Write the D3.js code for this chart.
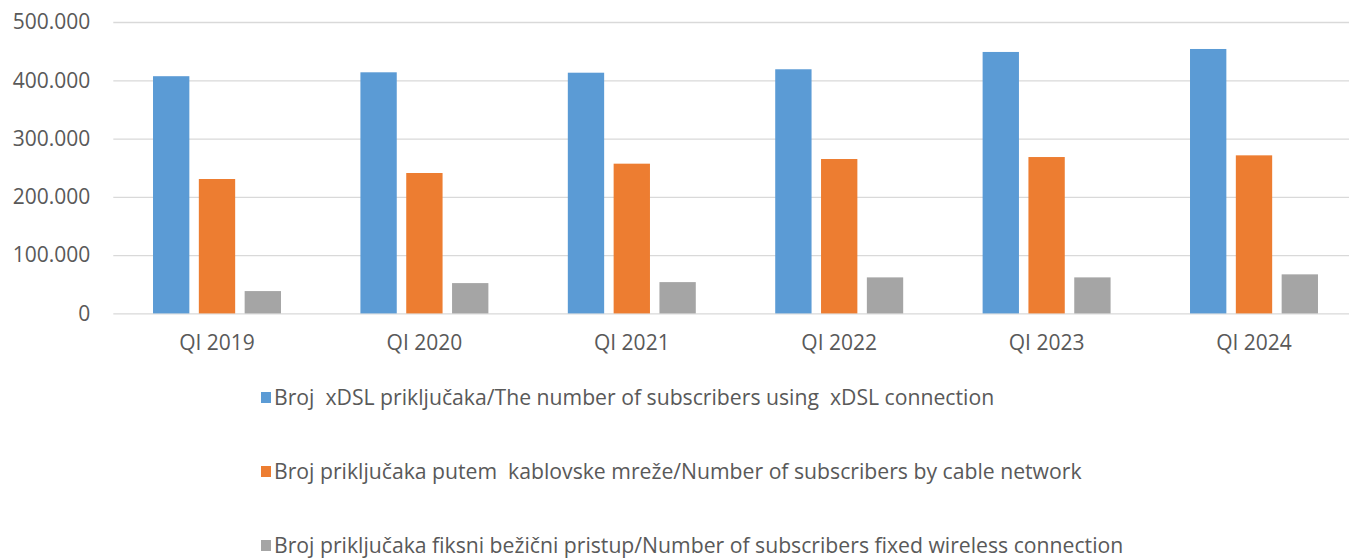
<!DOCTYPE html>
<html>
<head>
<meta charset="utf-8">
<script src="https://cdn.jsdelivr.net/npm/d3@7"></script>
<style>
  body { margin: 0; background: #fff; }
  text { font-family: "Open Sans", "Noto Sans", sans-serif; fill: #595959; white-space: pre; }
</style>
</head>
<body>
<svg width="1349" height="558"></svg>
<script>
// categories + series
var categories = ["QI 2019", "QI 2020", "QI 2021", "QI 2022", "QI 2023", "QI 2024"];
var seriesNames = [
  "Broj  xDSL priključaka/The number of subscribers using  xDSL connection",
  "Broj priključaka putem  kablovske mreže/Number of subscribers by cable network",
  "Broj priključaka fiksni bežični pristup/Number of subscribers fixed wireless connection"
];
var xdsl     = [407000, 413700, 413000, 418900, 448600, 453700];
var cable    = [230600, 240900, 256900, 264900, 268300, 271200];
var wireless = [38300, 52000, 53700, 61800, 61800, 67000];
var yTicks   = [0, 100000, 200000, 300000, 400000, 500000];
var colors   = ["#5B9BD5", "#ED7D31", "#A5A5A5"];

var seriesValues = [xdsl, cable, wireless];

var svg = d3.select("svg"),
  width = +svg.attr("width"),
  height = +svg.attr("height");

var plotL = 113.3, plotR = 1357.7, plotT = 22, plotB = 313.4;

var locale = d3.formatLocale({decimal: ",", thousands: ".", grouping: [3], currency: ["", ""]});
var fmt = locale.format(",");

var x0 = d3.scaleBand().domain(categories).range([plotL, plotR]);
var groupW = x0.bandwidth() * 0.617;
var x1 = d3.scaleBand().domain(d3.range(3))
  .range([(x0.bandwidth() - groupW) / 2, (x0.bandwidth() + groupW) / 2])
  .paddingInner(0.207);
var y = d3.scaleLinear().domain([0, 500000]).range([plotB, plotT]);

// grid + y labels
var yAxis = svg.append("g")
  .attr("transform", "translate(" + plotL + ",0)")
  .call(d3.axisLeft(y).tickValues(yTicks).tickFormat(fmt).tickSize(-(plotR - plotL)).tickPadding(23));
yAxis.select(".domain").remove();
yAxis.selectAll(".tick line").attr("stroke", "#D9D9D9").attr("stroke-width", 1.3);
yAxis.selectAll(".tick text").attr("font-size", 21).attr("fill", "#595959");

// bars
var groups = svg.append("g").selectAll("g")
  .data(categories)
  .enter().append("g")
    .attr("transform", function(d) { return "translate(" + x0(d) + ",0)"; });

groups.selectAll("rect")
  .data(function(d, i) { return seriesValues.map(function(s, j) { return {s: j, v: s[i]}; }); })
  .enter().append("rect")
    .attr("x", function(d) { return x1(d.s); })
    .attr("width", x1.bandwidth())
    .attr("y", function(d) { return y(d.v); })
    .attr("height", function(d) { return y(0) - y(d.v); })
    .attr("fill", function(d) { return colors[d.s]; });

// x labels
var xAxis = svg.append("g")
  .attr("transform", "translate(0," + plotB + ")")
  .call(d3.axisBottom(x0).tickSize(0).tickPadding(22));
xAxis.select(".domain").remove();
xAxis.selectAll(".tick text").attr("font-size", 21).attr("fill", "#595959");

// legend
var legend = svg.append("g").selectAll("g")
  .data(seriesNames)
  .enter().append("g")
    .attr("transform", function(d, i) { return "translate(261," + (398 + i * 74) + ")"; });

legend.append("rect")
  .attr("x", 0).attr("y", -6).attr("width", 10).attr("height", 11)
  .attr("fill", function(d, i) { return colors[i]; });

legend.append("text")
  .attr("x", 13).attr("y", 7)
  .attr("font-size", 21.2)
  .text(function(d) { return d; });
</script>
</body>
</html>
